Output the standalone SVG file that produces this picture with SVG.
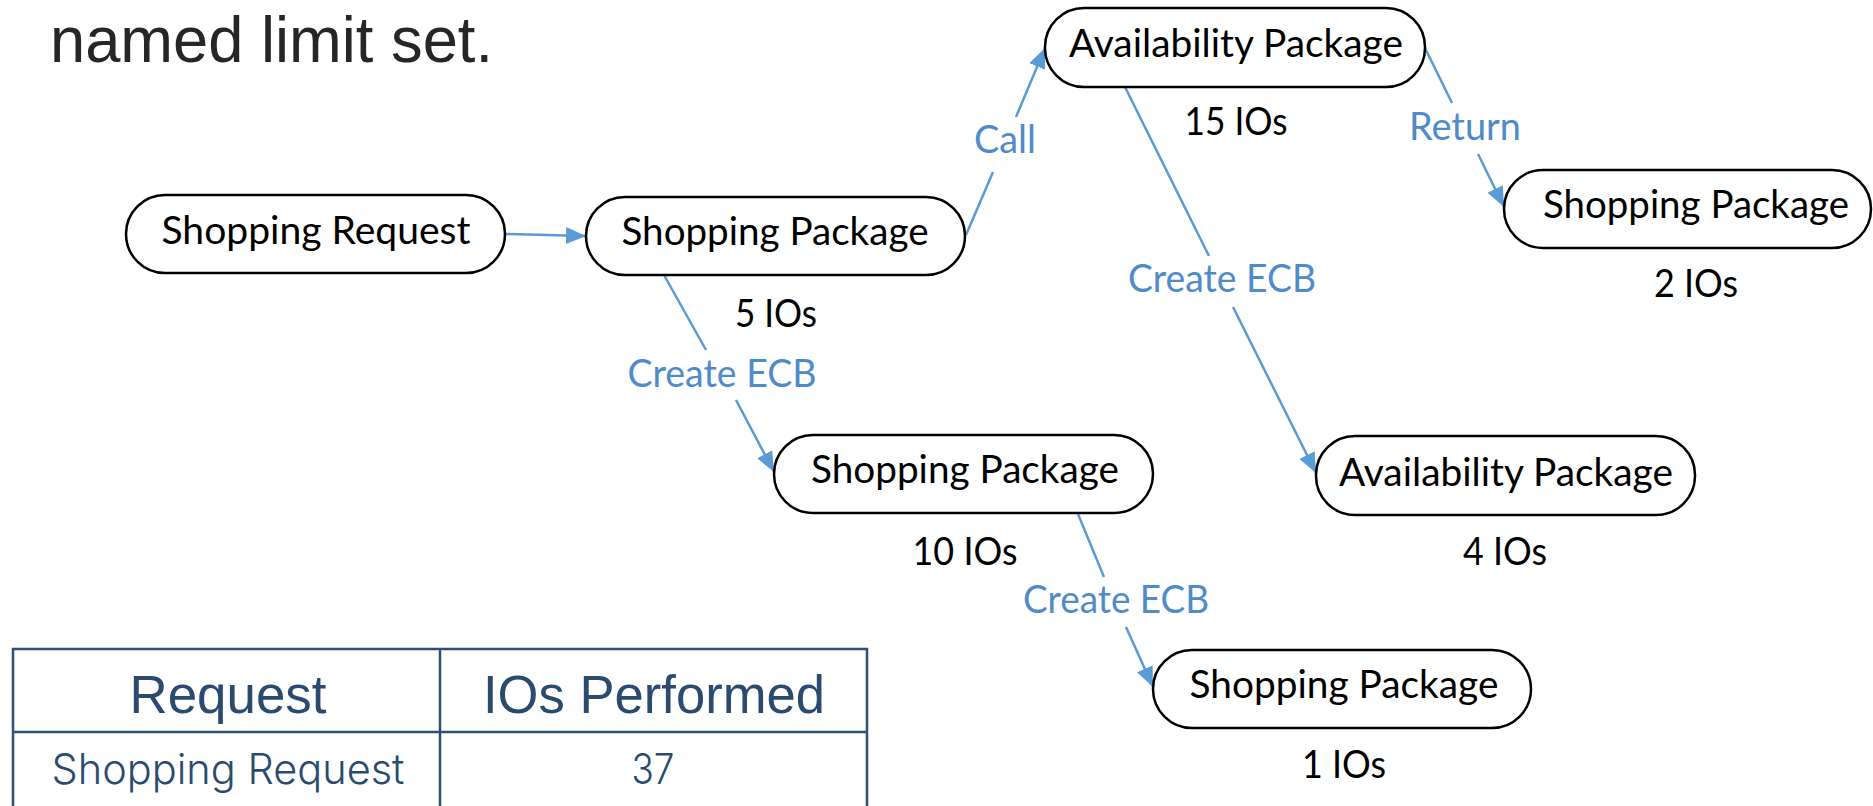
<svg xmlns="http://www.w3.org/2000/svg" width="1873" height="806" viewBox="0 0 1873 806">
  <style>
    .node rect { fill: #ffffff; stroke: #000000; stroke-width: 2.5; }
    .node text { font-family: Lato, "Noto Sans", sans-serif; font-size: 38px; fill: #000000; text-anchor: middle; }
    .io { font-family: Lato, "Noto Sans", sans-serif; font-size: 38px; fill: #000000; text-anchor: middle; }
    .edge { fill: none; stroke: #5B9BD5; stroke-width: 2.5; marker-end: url(#arrow); }
    .elabel { font-family: Lato, "Noto Sans", sans-serif; font-size: 38px; fill: #4F8BC9; text-anchor: middle; }
    .title { font-family: "Liberation Sans", Arial, sans-serif; font-size: 65px; fill: #262626; }
    .grid { fill: none; stroke: #2E5077; stroke-width: 2.5; }
    .th { font-family: "Liberation Sans", Arial, sans-serif; font-size: 54px; fill: #2B4A6F; text-anchor: middle; }
    .td { font-family: Inter, "Liberation Sans", sans-serif; font-weight: 300; font-size: 42px; fill: #2B4A6F; text-anchor: middle; }
  </style>
  <defs>
    <marker id="arrow" markerUnits="userSpaceOnUse" markerWidth="22" markerHeight="18" refX="20" refY="8.5" orient="auto">
      <path d="M0,0 L20,8.5 L0,17 z" fill="#5B9BD5"/>
    </marker>
  </defs>

  <!-- heading line -->
  <text class="title" x="50" y="62" textLength="443" lengthAdjust="spacingAndGlyphs">named limit set.</text>

  <!-- connectors -->
  <g id="connectors">
    <path class="edge" d="M506,234 L586,236"/>
    <path class="edge" d="M966,235 L993,172 M1016,117 L1045,48"/>
    <path class="edge" d="M1425,48 L1452,103 M1478,154 L1504,207"/>
    <path class="edge" d="M1125,87 L1209,256 M1233,307 L1316,473"/>
    <path class="edge" d="M664,275 L706,350 M736,400 L774,472"/>
    <path class="edge" d="M1078,514 L1104,577 M1126,627 L1153,687"/>
    <text class="elabel" x="1005" y="153" textLength="62" lengthAdjust="spacingAndGlyphs">Call</text>
    <text class="elabel" x="1465" y="140" textLength="112" lengthAdjust="spacingAndGlyphs">Return</text>
    <text class="elabel" x="1222" y="292" textLength="188" lengthAdjust="spacingAndGlyphs">Create ECB</text>
    <text class="elabel" x="722" y="387" textLength="189" lengthAdjust="spacingAndGlyphs">Create ECB</text>
    <text class="elabel" x="1116" y="613" textLength="186" lengthAdjust="spacingAndGlyphs">Create ECB</text>
  </g>

  <!-- nodes -->
  <g id="node-shopping-request" class="node">
    <rect x="126" y="195" width="379" height="78" rx="39" ry="39"/>
    <text x="316" y="244" textLength="309" lengthAdjust="spacingAndGlyphs">Shopping Request</text>
  </g>
  <g id="node-shopping-package-1" class="node">
    <rect x="586" y="197" width="379" height="78" rx="39" ry="39"/>
    <text x="775" y="245" textLength="307" lengthAdjust="spacingAndGlyphs">Shopping Package</text>
    <text class="io" x="776" y="327" textLength="82" lengthAdjust="spacingAndGlyphs">5 IOs</text>
  </g>
  <g id="node-availability-package-1" class="node">
    <rect x="1045" y="8" width="380" height="79" rx="39" ry="39"/>
    <text x="1236" y="57" textLength="334" lengthAdjust="spacingAndGlyphs">Availability Package</text>
    <text class="io" x="1236" y="135" textLength="103" lengthAdjust="spacingAndGlyphs">15 IOs</text>
  </g>
  <g id="node-shopping-package-return" class="node">
    <rect x="1504" y="170" width="367" height="78" rx="39" ry="39"/>
    <text x="1696" y="218" textLength="306" lengthAdjust="spacingAndGlyphs">Shopping Package</text>
    <text class="io" x="1696" y="297" textLength="84" lengthAdjust="spacingAndGlyphs">2 IOs</text>
  </g>
  <g id="node-shopping-package-2" class="node">
    <rect x="774" y="435" width="379" height="78" rx="39" ry="39"/>
    <text x="965" y="483" textLength="308" lengthAdjust="spacingAndGlyphs">Shopping Package</text>
    <text class="io" x="965" y="565" textLength="105" lengthAdjust="spacingAndGlyphs">10 IOs</text>
  </g>
  <g id="node-availability-package-2" class="node">
    <rect x="1316" y="436" width="379" height="79" rx="39" ry="39"/>
    <text x="1506" y="486" textLength="334" lengthAdjust="spacingAndGlyphs">Availability Package</text>
    <text class="io" x="1505" y="565" textLength="84" lengthAdjust="spacingAndGlyphs">4 IOs</text>
  </g>
  <g id="node-shopping-package-3" class="node">
    <rect x="1153" y="650" width="378" height="78" rx="39" ry="39"/>
    <text x="1344" y="698" textLength="309" lengthAdjust="spacingAndGlyphs">Shopping Package</text>
    <text class="io" x="1344" y="778" textLength="84" lengthAdjust="spacingAndGlyphs">1 IOs</text>
  </g>

  <!-- summary table -->
  <g id="summary-table">
    <path class="grid" d="M13,806 L13,649 L867,649 L867,806 M13,732 L867,732 M440,649 L440,806"/>
    <text class="th" x="228" y="713" textLength="197" lengthAdjust="spacingAndGlyphs">Request</text>
    <text class="th" x="654" y="713" textLength="342" lengthAdjust="spacingAndGlyphs">IOs Performed</text>
    <text class="td" x="228" y="784" textLength="353" lengthAdjust="spacingAndGlyphs">Shopping Request</text>
    <text class="td" x="653" y="784" textLength="43" lengthAdjust="spacingAndGlyphs">37</text>
  </g>
</svg>
